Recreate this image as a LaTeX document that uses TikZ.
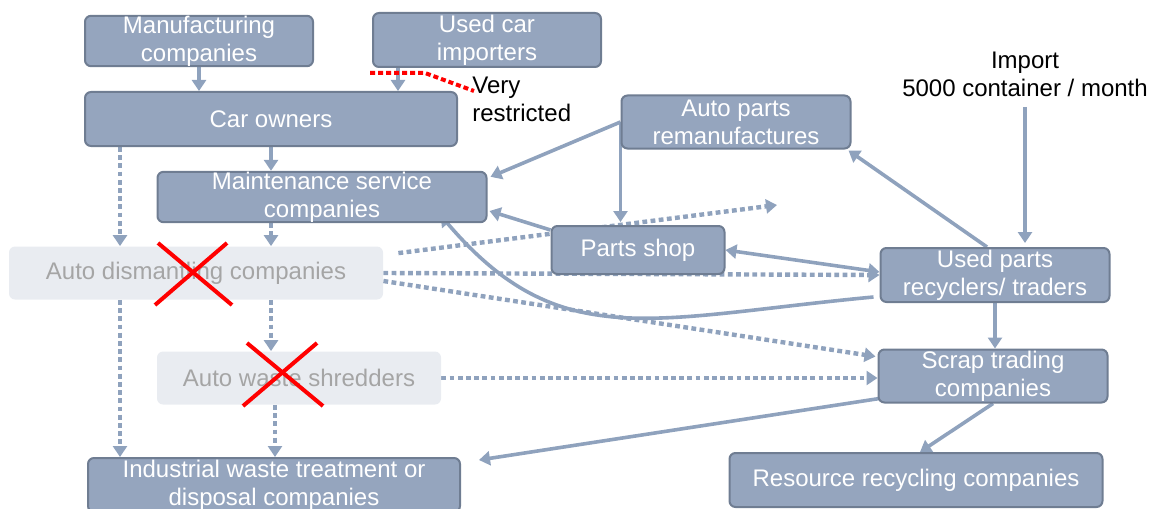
\documentclass[tikz,border=0pt]{standalone}
\usepackage{fontspec}
\setmainfont{Liberation Sans}
\usetikzlibrary{arrows.meta, calc, backgrounds}
\definecolor{boxfill}{HTML}{95A5BE}
\definecolor{boxline}{HTML}{6F7D92}
\definecolor{flow}{HTML}{8FA2BD}
\definecolor{fadefill}{HTML}{E9ECF1}
\definecolor{fadetext}{HTML}{A5A5A5}

\begin{document}
\begin{tikzpicture}[x=0.5pt, y=-0.5pt,
        actor/.style={rectangle, rounded corners=3pt, draw=boxline, line width=1pt, fill=boxfill, text=white, align=center, inner xsep=2pt, inner ysep=0pt, font=\fontsize{12}{14}\selectfont},
        gone/.style={rectangle, rounded corners=3pt, fill=fadefill, text=fadetext, align=center, inner sep=0pt, font=\fontsize{12}{14}\selectfont},
        note/.style={inner sep=0pt, font=\fontsize{12}{14}\selectfont},
        line/.style={flow, line width=1.8pt, -{Triangle[length=5.5pt,width=7pt]}},
        dotline/.style={line, line width=2.2pt, dash pattern=on 2.4pt off 1.7pt},
        cross/.style={red, line width=2pt}
    ]
        \useasboundingbox (0,0) rectangle (1155,508);

        % Upper chain
        \node[actor, minimum width=114pt, minimum height=24.5pt] (manu) at (199,41) {Manufacturing\\companies};
        \node[actor, minimum width=114pt, minimum height=27pt] (importer) at (487,40) {Used car\\importers};
        \node[actor, minimum width=186pt, minimum height=27pt] (owners) at (271,119) {Car owners};
        \node[actor, minimum width=164.5pt, minimum height=24.5pt] (maint) at (322,197) {Maintenance service\\companies};

        % Parts side
        \node[actor, minimum width=114.5pt, minimum height=26.5pt] (reman) at (736,122) {Auto parts\\remanufactures};
        \node[actor, minimum width=86.5pt, minimum height=24pt] (shop) at (638,250) {Parts shop};
        \node[actor, minimum width=114.5pt, minimum height=27pt] (recyc) at (995,275) {Used parts\\recyclers/ traders};
        \node[actor, minimum width=114.5pt, minimum height=26.5pt] (scrap) at (993,376) {Scrap trading\\companies};
        \node[actor, minimum width=186.5pt, minimum height=27pt] (resource) at (916,480) {Resource recycling companies};

        % Closed-down branch
        \node[gone, minimum width=187pt, minimum height=26.5pt] (dismantle) at (196,273) {Auto dismantling companies};
        \node[gone, minimum width=142pt, minimum height=26.5pt] (shred) at (299,378) {Auto waste shredders};
        \node[actor, minimum width=186pt, minimum height=27pt] (waste) at (274,485) {Industrial waste treatment or\\disposal companies};

        % Notes
        \node[note, align=center, inner ysep=5pt] (import) at (1025,74) {Import\\5000 container / month};
        \node[note, align=left, anchor=west] (restrict) at (472,99) {Very\\restricted};

        \begin{pgfonlayer}{background}
        % Solid flows
        \coordinate (imp) at ([xshift=-44.5pt]importer.south);
        \draw[line] (manu.south) -- (manu.south |- owners.north);
        \draw[line] (imp) -- (imp |- owners.north);
        \draw[line] (owners.south) -- (owners.south |- maint.north);
        \draw[line] (reman.west) -- ($(maint.north east)+(3,6)$);
        \draw[line] (reman.west) -- ($(reman.west |- shop.north)+(0,-3)$);
        \draw[line] ($(shop.north west)+(0,5)$) -- ($(maint.east)+(2,14)$);
        \draw[line, {Triangle[length=5.5pt,width=7pt]}-{Triangle[length=5.5pt,width=7pt]}] (shop.east) -- ($(recyc.west)+(0,-3)$);
        \coordinate (recout) at ($(recyc.west)+(-6,22)$);
        \draw[line] (recout) .. controls (650,318) and (560,355) .. ($(maint.south east)+(-47,-8)$);
        \draw[line] ($(recyc.north)+(-8,0)$) -- ($(reman.south east)+(-3,1)$);
        \draw[line] (import.south) -- ($(import.south |- recyc.north)+(0,-4)$);
        \draw[line] (recyc.south) -- (recyc.south |- scrap.north);
        \draw[line] ($(scrap.south west)+(2,-5)$) -- ($(waste.north east)+(18,3)$);
        \draw[line] (scrap.south) -- ($(resource.north)+(4,0)$);

        % Dotted flows
        \coordinate (side) at ($(owners.south west)+(36,0)$);
        \coordinate (mid) at ($(shred.south)+(-24,0)$);
        \coordinate (partsout) at (777,205);
        \draw[dotline] (side) -- (side |- dismantle.north);
        \draw[dotline] (owners.south |- maint.south) -- (owners.south |- dismantle.north);
        \draw[dotline] ($(dismantle.north east)+(15,7)$) -- (partsout);
        \draw[dotline] (dismantle.east) -- (recyc.west);
        \draw[dotline] ($(dismantle.east)+(0,8)$) -- ($(scrap.north west)+(-2,8)$);
        \draw[dotline] (owners.south |- dismantle.south) -- (owners.south |- shred.north);
        \draw[dotline] (side |- dismantle.south) -- (side |- waste.north);
        \draw[dotline] (mid) -- (mid |- waste.north);
        \draw[dotline] (shred.east) -- (shred.east -| scrap.west);
        \end{pgfonlayer}

        % Restriction mark and crosses
        \draw[red, line width=2pt, dash pattern=on 2.5pt off 1.5pt] (370,73) -- (425,73) -- (474,91);
        \draw[cross] (158,243) -- (232,305);
        \draw[cross] (227,243) -- (155,305);
        \draw[cross] (247,343) -- (323,406);
        \draw[cross] (317,343) -- (243,406);
    \end{tikzpicture}
\end{document}
